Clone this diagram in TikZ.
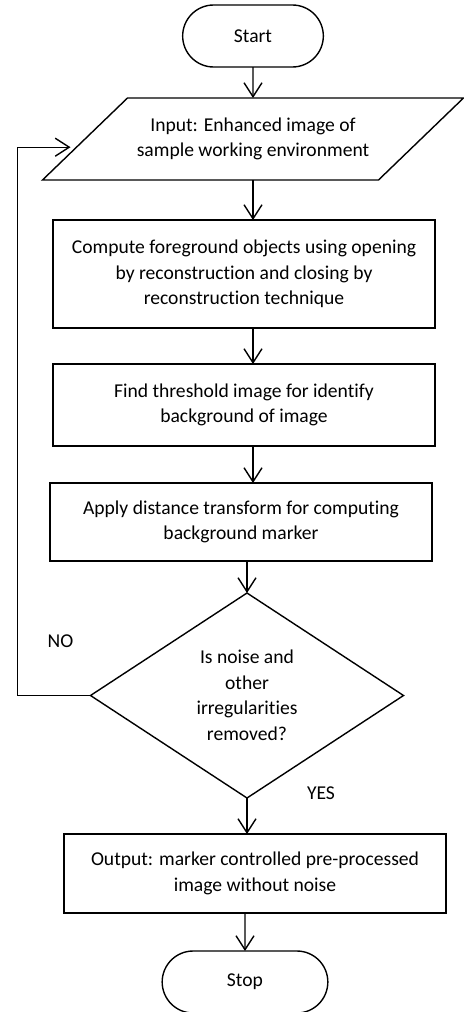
\documentclass[tikz,border=0pt]{standalone}
\usepackage{fontspec}
\setmainfont{Carlito}[Ligatures=NoCommon]
\usetikzlibrary{positioning,calc,arrows.meta,shapes.geometric,shapes.misc}

\begin{document}
\begin{tikzpicture}[->,
    >={Straight Barb[length=7pt,width=9pt]},
    line width=0.7pt,
    font=\fontsize{9.8}{12.75}\selectfont,
    every node/.style={outer sep=0pt},
    term/.style={draw, rounded rectangle, minimum width=77pt, minimum height=31pt},
    io/.style={rectangle, minimum width=210.5pt, minimum height=41pt, align=center},
    proc/.style={draw, rectangle, minimum width=191pt, align=center},
    decision/.style={draw, diamond, aspect=1.5, minimum width=156.5pt,
      minimum height=102.5pt, inner sep=0pt, align=center}]
    \useasboundingbox (0,0) rectangle (232pt,-506pt);
    \node[term] (start) at (126.5pt,-18pt) {Start};
    \node[io] (inp) [below=15.5pt of start] {Input: Enhanced image of\\sample working environment};
    \coordinate (inp-tl) at ($(inp.north west)+(42.5pt,0)$);
    \coordinate (inp-br) at ($(inp.south east)+(-42.5pt,0)$);
    \draw[-] (inp-tl) -- (inp.north east) -- (inp-br) -- (inp.south west) -- cycle;
    \node[proc, minimum height=54pt] (fg) [below=20pt of inp, xshift=-4.5pt] {Compute foreground objects using opening\\by reconstruction and closing by\\reconstruction technique};
    \node[proc, minimum height=41pt] (thr) [below=18pt of fg] {Find threshold image for identify\\background of image};
    \node[proc, minimum height=39pt] (dist) [below=18.5pt of thr, xshift=-1.5pt] {Apply distance transform for computing\\background marker};
    \node[decision] (chk) [below=16pt of dist, xshift=3pt] {Is noise and\\other\\irregularities\\removed?};
    \node[proc, minimum height=39.5pt] (out) [below=18pt of chk, xshift=4pt] {Output: marker controlled pre-processed\\image without noise};
    \node[term, minimum width=89.5pt] (stop) [below=19pt of out, xshift=-5pt] {Stop};
    \node (no) [xshift=-15pt, yshift=27pt] at (chk.west) {NO};
    \node (yes) [xshift=37pt, yshift=2.5pt] at (chk.south) {YES};

    \draw (start) -- (inp);
    \draw (inp) -- (inp |- fg.north);
    \draw (fg.south -| inp) -- (thr.north -| inp);
    \draw (thr.south -| inp) -- (dist.north -| inp);
    \draw (dist.south -| chk) -- (chk);
    \draw (chk) -- (out.north -| chk);
    \draw (out.south -| stop) -- (stop);
    \draw[shorten >=3pt] (chk.west) -- ++(-36.5pt,0) |- ($(inp.south west)!0.4!(inp-tl)$);
\end{tikzpicture}
\end{document}
